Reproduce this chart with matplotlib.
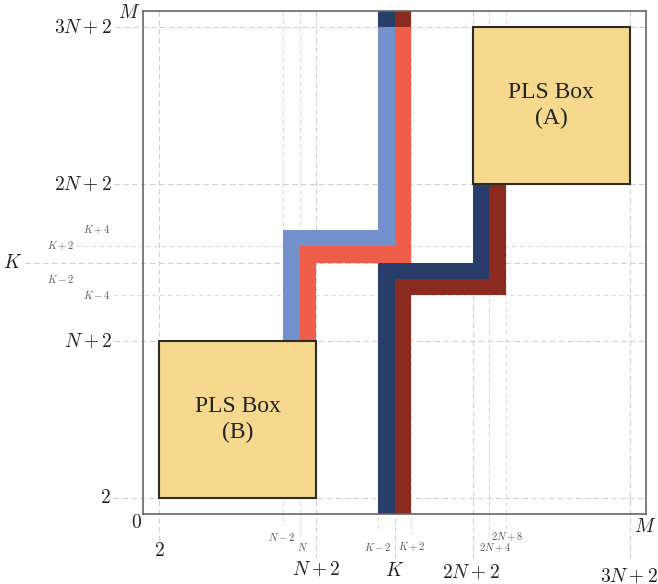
import matplotlib.pyplot as plt
from matplotlib.patches import Polygon, Rectangle

plt.rcParams['mathtext.fontset'] = 'cm'

# schematic sizes (in grid units)
N = 19
K = 30.5
M = 61
w = 2  # stripe width

# tick labels along x: (label, position, small?)
x_labels = ["2", "N-2", "N", "N+2", "K-2", "K", "K+2", "2N+2", "2N+4", "2N+8", "3N+2"]
x_pos = [2, N - 2, N, N + 2, K - 2, K, K + 2, 2 * N + 2, 2 * N + 4, 2 * N + 6, 3 * N + 2]
x_small = [False, True, True, False, True, False, True, False, True, True, False]

# tick labels along y
y_labels = ["2", "N+2", "K-4", "K-2", "K", "K+2", "K+4", "2N+2", "3N+2"]
y_pos = [2, N + 2, K - 4, K - 2, K, K + 2, K + 4, 2 * N + 2, 3 * N + 2]
y_small = [False, False, True, True, False, True, True, False, False]
y_line = [True, True, True, False, True, True, False, True, True]

# label placement in figure pixels (from top-left) and how far the dashed line runs
x_lab_py = [551, 537, 547, 569, 547, 571, 547, 572, 548, 537, 576]
x_lab_px = [159, 281, 303, 316, 378, 395, 412, 471, 495, 507, 629]
x_line_end = [541, 525, 540, 557, 532, 562, 534, 562, 543, 531, 562]
y_lab_px = [111, 112, 111, 74, 22, 74, 111, 112, 112]
y_line_end = [113, 114, 113, 0, 25, 76, 0, 114, 115]

BOX = "#f6d98e"
LBLUE = "#7491cb"
LRED = "#ee5e4a"
DBLUE = "#283d6a"
DRED = "#8b2a1e"

W, H = 658, 584
fig = plt.figure(figsize=(W / 100, H / 100), dpi=100)
L, R, T, B = 143, 646, 11, 514
ax = fig.add_axes([L / W, (H - B) / H, (R - L) / W, (B - T) / H])
ax.set_xlim(0, M)
ax.set_ylim(0, M)
ax.set_xticks([])
ax.set_yticks([])
for s in ax.spines.values():
    s.set_color("#666666")
    s.set_linewidth(1.2)
    s.set_zorder(5)

sx = (R - L) / M


def px2x(px):
    return (px - L) / sx


def py2y(py):
    return (B - py) / sx


# dashed guide lines + labels on x
for lab, p, small, ly, lx, le in zip(x_labels, x_pos, x_small, x_lab_py, x_lab_px, x_line_end):
    ax.plot([p, p], [M, py2y(le)], ls=(0, (4, 3)) if small else (0, (5, 3)),
            color="#dcdcdc" if small else "#d0d0d0", lw=0.8, clip_on=False, zorder=0)
    ax.text(px2x(lx), py2y(ly), "$" + lab + "$",
            ha="center", va="center", fontsize=7.5 if small else 14,
            color="#555555" if small else "#222222", clip_on=False)

# dashed guide lines + labels on y
for lab, p, small, has_line, lx, le in zip(y_labels, y_pos, y_small, y_line, y_lab_px, y_line_end):
    if has_line:
        ax.plot([px2x(le), M], [p, p], ls=(0, (4, 3)) if small else (0, (5, 3)),
                color="#dcdcdc" if small else "#d0d0d0", lw=0.8, clip_on=False, zorder=0)
    ax.text(px2x(lx), p, "$" + lab + "$", ha="right", va="center",
            fontsize=7.5 if small else 14,
            color="#555555" if small else "#222222", clip_on=False)

ax.text(px2x(136), py2y(522), "$0$", ha="center", va="center", fontsize=14, color="#222222", clip_on=False)
ax.text(px2x(645), py2y(526), "$M$", ha="center", va="center", fontsize=14, color="#222222", clip_on=False)
ax.text(px2x(129), py2y(13), "$M$", ha="center", va="center", fontsize=14, color="#222222", clip_on=False)

# stripes
lblue = [(K - w, 3 * N + 2), (K, 3 * N + 2), (K, K + 2), (N, K + 2), (N, N + 2),
         (N - 2, N + 2), (N - 2, K + 4), (K - w, K + 4)]
lred = [(K, 3 * N + 2), (K + w, 3 * N + 2), (K + w, K), (N + 2, K), (N + 2, N + 2),
        (N, N + 2), (N, K + 2), (K, K + 2)]
dblue = [(K - w, 0), (K, 0), (K, K - 2), (2 * N + 4, K - 2), (2 * N + 4, 2 * N + 2),
         (2 * N + 2, 2 * N + 2), (2 * N + 2, K), (K - w, K)]
dred = [(K, 0), (K + w, 0), (K + w, K - 4), (2 * N + 6, K - 4), (2 * N + 6, 2 * N + 2),
        (2 * N + 4, 2 * N + 2), (2 * N + 4, K - 2), (K, K - 2)]
for verts, c in [(lblue, LBLUE), (lred, LRED), (dblue, DBLUE), (dred, DRED)]:
    ax.add_patch(Polygon(verts, closed=True, facecolor=c, edgecolor="none", zorder=2))
ax.add_patch(Rectangle((K - w, 3 * N + 2), w, M - 3 * N - 2, facecolor=DBLUE, edgecolor="none", zorder=2))
ax.add_patch(Rectangle((K, 3 * N + 2), w, M - 3 * N - 2, facecolor=DRED, edgecolor="none", zorder=2))

# PLS boxes
for x0, name in [(2 * N + 2, "(A)"), (2, "(B)")]:
    ax.add_patch(Rectangle((x0, x0), N, N, facecolor=BOX, edgecolor="#2b2b2b", lw=1.5, zorder=3))
    ax.text(x0 + N / 2, x0 + N / 2, "PLS Box\n" + name, ha="center", va="center",
            fontsize=17, family="Liberation Serif", color="#222222", linespacing=1.3, zorder=4)

fig.savefig("out.png", dpi=100)
